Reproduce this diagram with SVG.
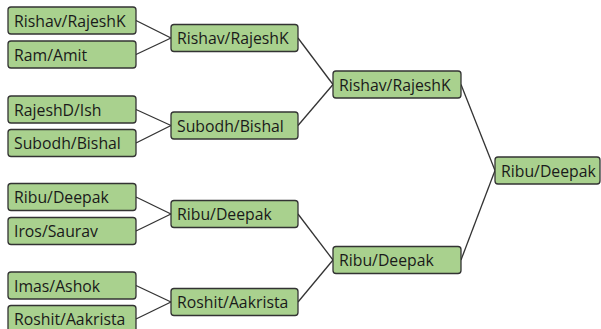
<svg xmlns="http://www.w3.org/2000/svg" width="601" height="329" viewBox="0 0 601 329">
<style>
.n rect{fill:#a9d18e;stroke:#333;stroke-width:1.3}
.n text{font-family:"Open Sans","Liberation Sans",sans-serif;font-size:15.8px;fill:#1a1a1a}
#c line{stroke:#333;stroke-width:1.3}
</style>
<rect width="601" height="329" fill="#fff"/>
<g id="c">
<line x1="136" y1="20.5" x2="171" y2="38"/>
<line x1="136" y1="54.5" x2="171" y2="38"/>
<line x1="136" y1="109.5" x2="171" y2="125.5"/>
<line x1="136" y1="143" x2="171" y2="125.5"/>
<line x1="136" y1="197" x2="171" y2="214"/>
<line x1="136" y1="231" x2="171" y2="214"/>
<line x1="136" y1="285.5" x2="171" y2="302"/>
<line x1="136" y1="319" x2="171" y2="302"/>
<line x1="298" y1="38" x2="333" y2="84.5"/>
<line x1="298" y1="125.5" x2="333" y2="84.5"/>
<line x1="298" y1="214" x2="333" y2="260"/>
<line x1="298" y1="302" x2="333" y2="260"/>
<line x1="461" y1="84.5" x2="495" y2="170.5"/>
<line x1="461" y1="260" x2="495" y2="170.5"/>
</g>
<g id="r1a" class="n"><rect x="8" y="7" width="128" height="27" rx="3"/><text x="14" y="26.5">Rishav/RajeshK</text></g>
<g id="r1b" class="n"><rect x="8" y="41" width="128" height="27" rx="3"/><text x="14" y="60.5">Ram/Amit</text></g>
<g id="r1c" class="n"><rect x="8" y="96" width="128" height="27" rx="3"/><text x="14" y="115.5">RajeshD/Ish</text></g>
<g id="r1d" class="n"><rect x="8" y="129.5" width="128" height="27" rx="3"/><text x="14" y="149">Subodh/Bishal</text></g>
<g id="r1e" class="n"><rect x="8" y="183.5" width="128" height="27" rx="3"/><text x="14" y="203">Ribu/Deepak</text></g>
<g id="r1f" class="n"><rect x="8" y="217.5" width="128" height="27" rx="3"/><text x="14" y="237">Iros/Saurav</text></g>
<g id="r1g" class="n"><rect x="8" y="272" width="128" height="27" rx="3"/><text x="14" y="291.5">Imas/Ashok</text></g>
<g id="r1h" class="n"><rect x="8" y="305.5" width="128" height="27" rx="3"/><text x="14" y="325">Roshit/Aakrista</text></g>
<g id="r2a" class="n"><rect x="171" y="24.5" width="127" height="27" rx="3"/><text x="177" y="44">Rishav/RajeshK</text></g>
<g id="r2b" class="n"><rect x="171" y="112" width="127" height="27" rx="3"/><text x="177" y="131.5">Subodh/Bishal</text></g>
<g id="r2c" class="n"><rect x="171" y="200.5" width="127" height="27" rx="3"/><text x="177" y="220">Ribu/Deepak</text></g>
<g id="r2d" class="n"><rect x="171" y="288.5" width="127" height="27" rx="3"/><text x="177" y="308">Roshit/Aakrista</text></g>
<g id="r3a" class="n"><rect x="333" y="71" width="128" height="27" rx="3"/><text x="339" y="90.5">Rishav/RajeshK</text></g>
<g id="r3b" class="n"><rect x="333" y="246.5" width="128" height="27" rx="3"/><text x="339" y="266">Ribu/Deepak</text></g>
<g id="f" class="n"><rect x="495" y="157" width="105" height="27" rx="3"/><text x="501" y="176.5">Ribu/Deepak</text></g>
</svg>
